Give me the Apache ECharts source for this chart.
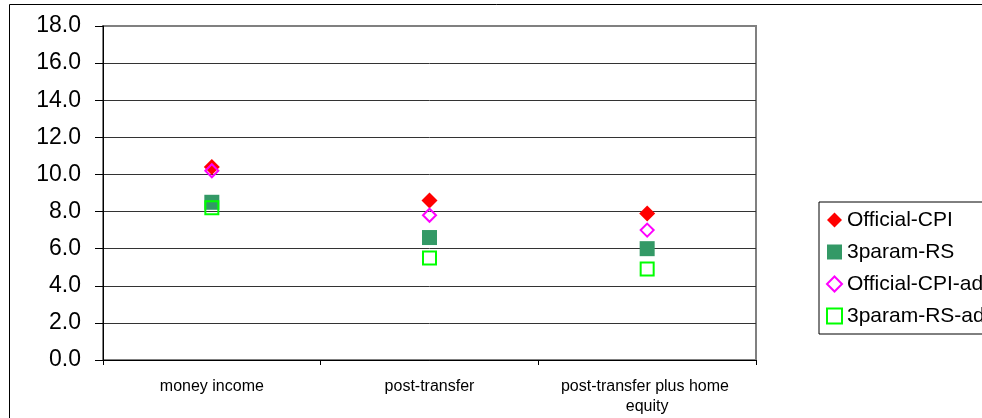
<!DOCTYPE html>
<html>
<head>
<meta charset="utf-8">
<script src="https://cdn.jsdelivr.net/npm/echarts@6/dist/echarts.min.js"></script>
<style>
  html, body { margin: 0; padding: 0; background: #fff; }
  #chart { width: 982px; height: 418px; }
</style>
</head>
<body>
<div id="chart"></div>
<script>
// Income measures on the category axis
const categories = ['money income', 'post-transfer', 'post-transfer plus home equity'];

// Values per price index
const officialCPI    = [10.4, 8.6, 7.9];
const threeParamRS   = [8.5, 6.6, 6.0];
const officialCPIAdj = [10.2, 7.8, 7.0];
const threeParamRSAdj = [8.2, 5.5, 4.9];

const seriesNames = ['Official-CPI', '3param-RS', 'Official-CPI-adj', '3param-RS-adj'];

const yTicks = { min: 0, max: 18, interval: 2 };

const font = 'Liberation Sans, Arial, sans-serif';

const chart = echarts.init(document.getElementById('chart'), null, { renderer: 'canvas' });

chart.setOption({
  backgroundColor: '#ffffff',
  animation: false,
  textStyle: { fontFamily: font, color: '#000' },
  graphic: [{
    type: 'rect',
    shape: { x: 9.5, y: 4.5, width: 1100, height: 600 },
    style: { fill: 'none', stroke: '#000', lineWidth: 1 },
    silent: true,
    z: -1
  }],
  grid: {
    left: 103, top: 26, right: 226, bottom: 58,
    show: true,
    backgroundColor: '#ffffff',
    borderColor: '#808080',
    borderWidth: 2
  },
  legend: {
    orient: 'vertical',
    left: 819, top: 202,
    padding: [7, 60, 7, 7],
    itemGap: 10,
    itemWidth: 15, itemHeight: 15,
    borderColor: '#000', borderWidth: 1,
    backgroundColor: '#fff',
    textStyle: { fontFamily: font, fontSize: 21, color: '#000', lineHeight: 22 },
    data: seriesNames
  },
  xAxis: {
    type: 'category',
    data: categories,
    boundaryGap: true,
    axisLine: { lineStyle: { color: '#000', width: 1 } },
    axisTick: { show: true, length: 5, lineStyle: { color: '#000' } },
    axisLabel: {
      fontFamily: font, fontSize: 16, color: '#000',
      margin: 17, lineHeight: 20,
      width: 190, overflow: 'break', interval: 0
    },
    splitLine: { show: false }
  },
  yAxis: {
    type: 'value',
    min: yTicks.min, max: yTicks.max, interval: yTicks.interval,
    axisLine: { show: true, lineStyle: { color: '#000', width: 1 } },
    axisTick: { show: true, length: 8, lineStyle: { color: '#000' } },
    axisLabel: {
      fontFamily: font, fontSize: 23, color: '#000', margin: 22,
      formatter: v => v.toFixed(1)
    },
    splitLine: { show: true, showMaxLine: false, lineStyle: { color: '#333', width: 1 } }
  },
  series: [
    {
      name: seriesNames[0], type: 'scatter', data: officialCPI,
      symbol: 'diamond', symbolSize: [16, 16],
      itemStyle: { color: '#FF0000', opacity: 1 }
    },
    {
      name: seriesNames[1], type: 'scatter', data: threeParamRS,
      symbol: 'rect', symbolSize: [15, 15],
      itemStyle: { color: '#339966', opacity: 1 }
    },
    {
      name: seriesNames[2], type: 'scatter', data: officialCPIAdj,
      symbol: 'diamond', symbolSize: [13, 13],
      itemStyle: { color: 'rgba(255,255,255,0)', borderColor: '#FF00FF', borderWidth: 2, opacity: 1 }
    },
    {
      name: seriesNames[3], type: 'scatter', data: threeParamRSAdj,
      symbol: 'rect', symbolSize: [13, 13],
      itemStyle: { color: 'rgba(255,255,255,0)', borderColor: '#00FF00', borderWidth: 2, opacity: 1 }
    }
  ]
});
</script>
</body>
</html>
